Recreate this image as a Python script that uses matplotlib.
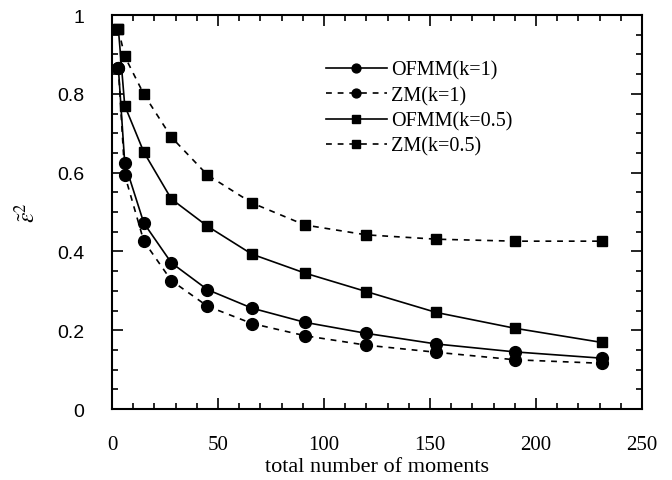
import matplotlib.pyplot as plt
from matplotlib.ticker import MultipleLocator

# number of moments (x)
n = [3, 6, 15, 28, 45, 66, 91, 120, 153, 190, 231]

# normalized reconstruction error
ofmm_k1 = [0.866, 0.624, 0.472, 0.371, 0.303, 0.256, 0.220, 0.192, 0.165, 0.145, 0.129]
zm_k1 = [0.866, 0.594, 0.426, 0.326, 0.261, 0.217, 0.186, 0.162, 0.144, 0.125, 0.116]
ofmm_k05 = [0.964, 0.770, 0.652, 0.533, 0.464, 0.393, 0.345, 0.298, 0.245, 0.205, 0.169]
zm_k05 = [0.964, 0.895, 0.799, 0.690, 0.594, 0.523, 0.467, 0.442, 0.431, 0.426, 0.426]

plt.rcParams["font.family"] = ["Liberation Serif", "DejaVu Serif"]
plt.rcParams["mathtext.fontset"] = "stix"

fig = plt.figure(figsize=(6.72, 4.81), dpi=100)
ax = fig.add_axes([0.1667, 0.1476, 0.7886, 0.8191])

dash = (0, (3.5, 3.5))
ax.plot(n, ofmm_k1, "-", color="black", marker="o", ms=8.5, lw=1.2, label="OFMM(k=1)")
ax.plot(n, zm_k1, linestyle=dash, color="black", marker="o", ms=8.5, lw=1.2, label="ZM(k=1)")
ax.plot(n, ofmm_k05, "-", color="black", marker="s", ms=7, lw=1.2, label="OFMM(k=0.5)")
ax.plot(n, zm_k05, linestyle=dash, color="black", marker="s", ms=7, lw=1.2, label="ZM(k=0.5)")

ax.set_xlim(0, 250)
ax.set_ylim(0, 1)
ax.xaxis.set_major_locator(MultipleLocator(50))
ax.xaxis.set_minor_locator(MultipleLocator(10))
ax.yaxis.set_minor_locator(MultipleLocator(0.05))
ax.set_yticks([0, 0.2, 0.4, 0.6, 0.8, 1.0])
ax.set_yticklabels(["0", "0.2", "0.4", "0.6", "0.8", "1"])
ax.tick_params(which="both", direction="in", top=True, right=True, width=1.2)
ax.tick_params(which="major", length=8, labelsize=15)
ax.tick_params(which="minor", length=4)
ax.tick_params(axis="x", pad=19)
ax.tick_params(axis="y", pad=20)
for lab in ax.get_yticklabels():
    lab.set_family(["Liberation Sans", "DejaVu Sans"])
    lab.set_fontsize(14)
for s in ax.spines.values():
    s.set_linewidth(1.5)

ax.set_xlabel("total number of moments", fontsize=16, labelpad=2)
ax.set_ylabel(r"$\tilde{\varepsilon}^2$", fontsize=17, labelpad=12)

ax.legend(loc="upper left", bbox_to_anchor=(0.37, 0.93), frameon=False, fontsize=14.5,
          handlelength=3.0, handletextpad=0.2, labelspacing=0.3, markerscale=0.75)

fig.savefig("out.png", dpi=100)
